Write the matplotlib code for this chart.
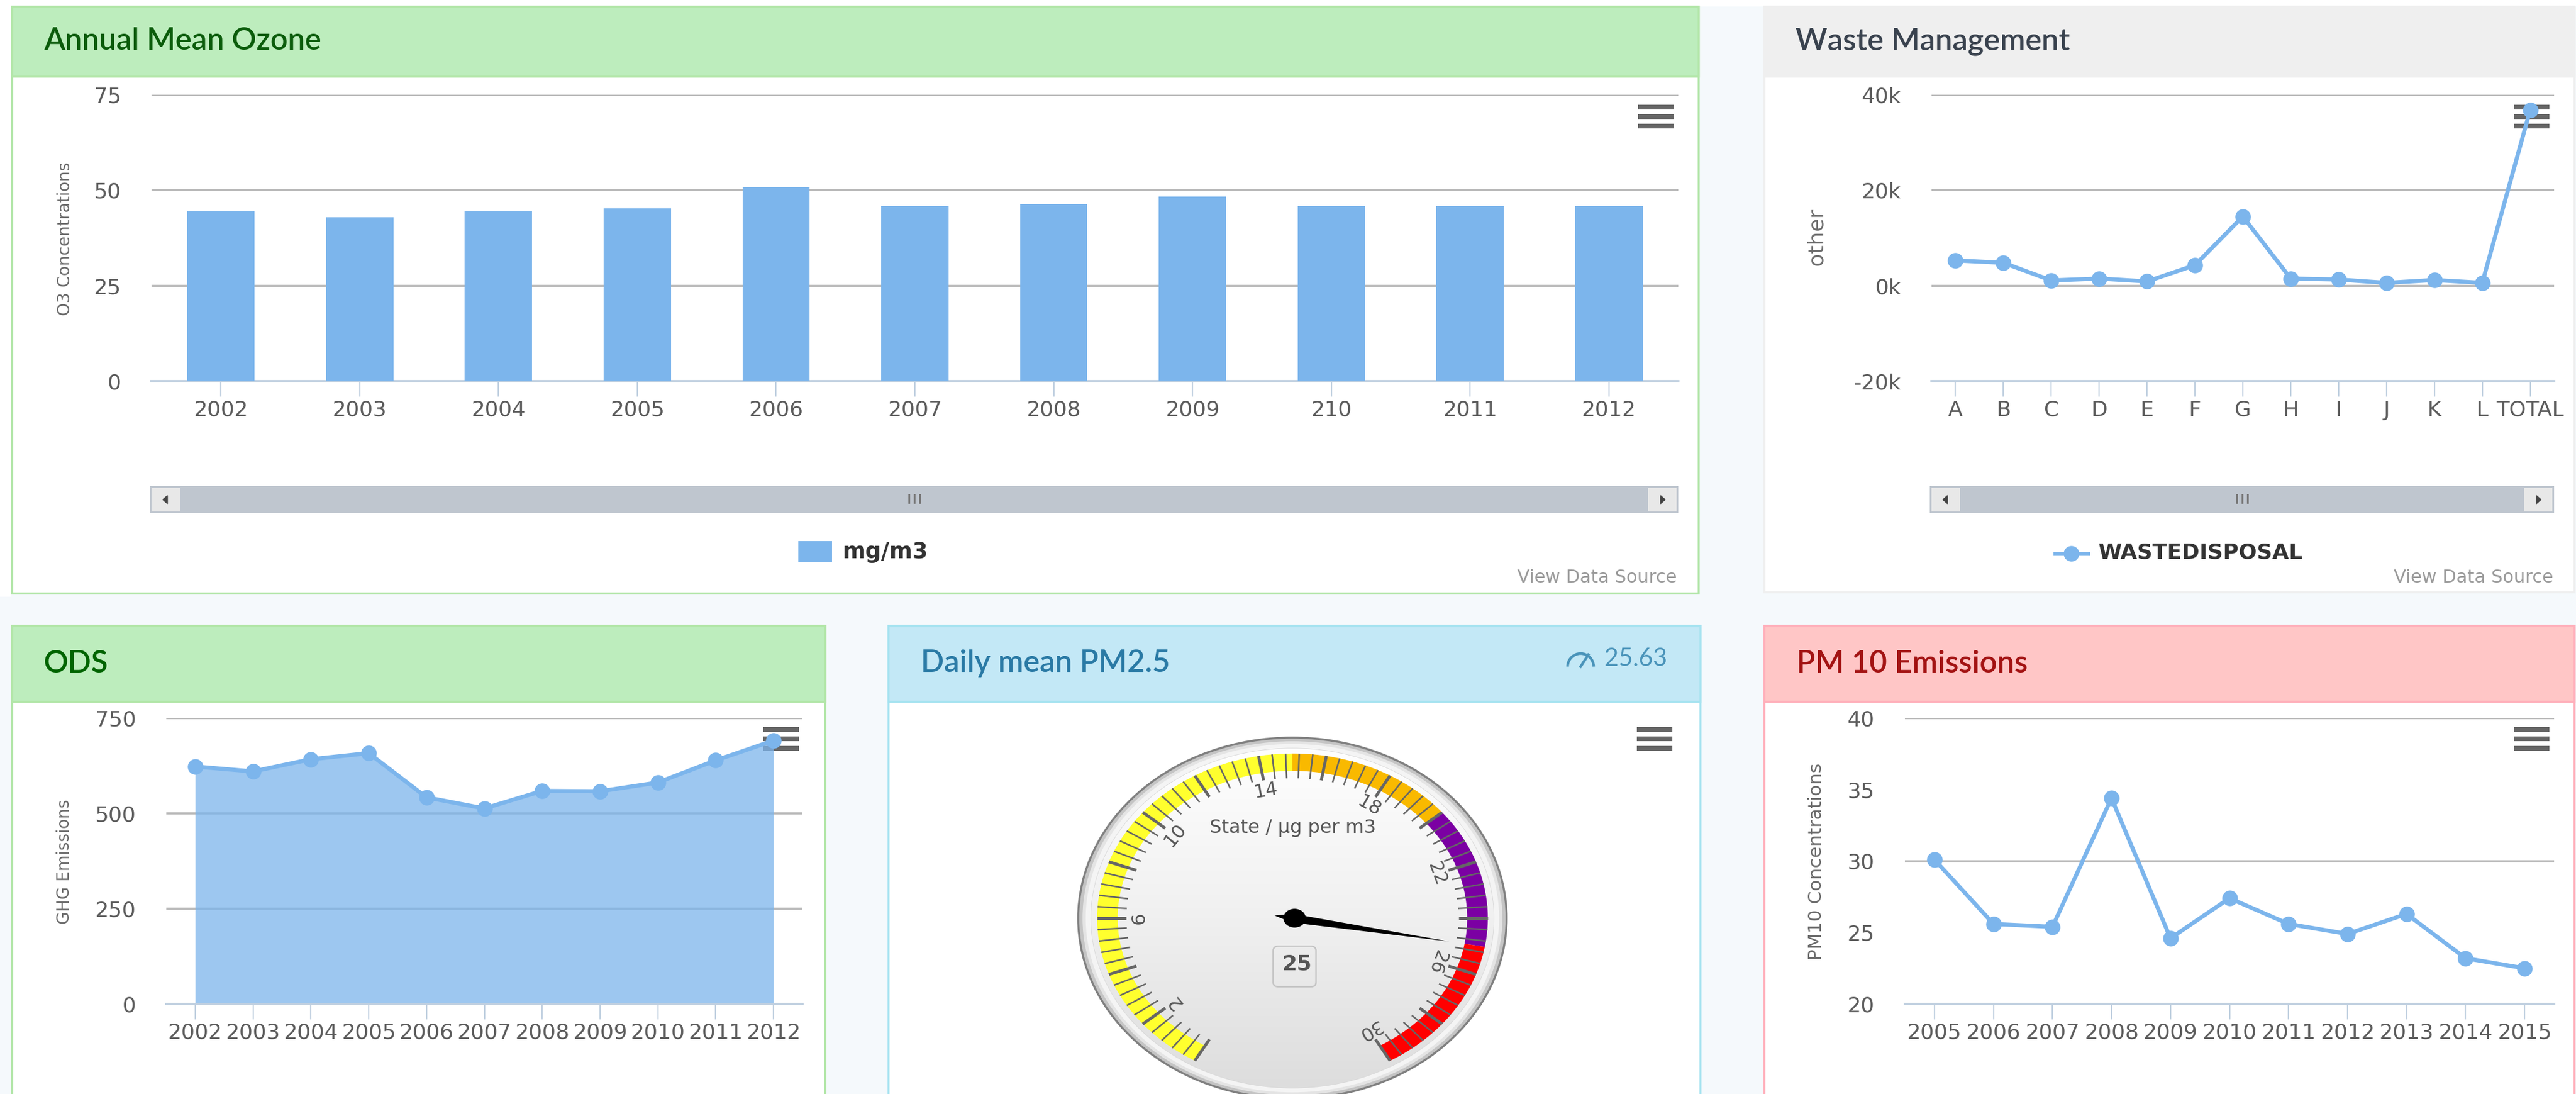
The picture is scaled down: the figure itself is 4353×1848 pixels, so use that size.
import numpy as np
import matplotlib
matplotlib.use('Agg')
import matplotlib.pyplot as plt
from matplotlib.patches import Rectangle, Circle, Arc, FancyBboxPatch

plt.rcParams['font.family'] = ['DejaVu Sans']

W = 4353
H = 1848

# chart values
ozone_years = ['2002', '2003', '2004', '2005', '2006', '2007', '2008', '2009', '210', '2011', '2012']
ozone_vals = [44.7, 43.0, 44.7, 45.3, 50.8, 45.8, 46.3, 48.4, 45.8, 45.8, 45.8]
ozone_ticks = [0, 25, 50, 75]

waste_cats = ['A', 'B', 'C', 'D', 'E', 'F', 'G', 'H', 'I', 'J', 'K', 'L', 'TOTAL']
waste_vals = [5300, 4800, 1100, 1500, 900, 4300, 14500, 1500, 1300, 600, 1200, 600, 36800]
waste_ticks = [-20000, 0, 20000, 40000]
waste_labels = ['-20k', '0k', '20k', '40k']

ods_years = ['2002', '2003', '2004', '2005', '2006', '2007', '2008', '2009', '2010', '2011', '2012']
ods_vals = [623, 610, 642, 658, 542, 513, 559, 558, 581, 639, 691]
ods_ticks = [0, 250, 500, 750]

pm10_years = ['2005', '2006', '2007', '2008', '2009', '2010', '2011', '2012', '2013', '2014', '2015']
pm10_vals = [30.1, 25.6, 25.4, 34.4, 24.6, 27.4, 25.6, 24.9, 26.3, 23.2, 22.5]
pm10_ticks = [20, 25, 30, 35, 40]
pm10_grid = [30, 40]

gauge_value = 25
gauge_band_edges = [0, 15, 20, 25, 30]
gauge_band_colors = ['#ffff2e', '#f9b900', '#7b00a3', '#ff0000']
gauge_labels = [2, 6, 10, 14, 18, 22, 26, 30]

BLUE = '#7cb5ec'
GRID = '#b8b8b8'
AXIS = '#c0d0e0'
TICKTXT = '#5c5c5c'

fig = plt.figure(figsize=(W / 100, H / 100), dpi=100, facecolor='#f5f9fc')

# page layer, in pixels
bg = fig.add_axes([0, 0, 1, 1], zorder=0)
bg.set_xlim(0, W)
bg.set_ylim(H, 0)
bg.axis('off')
bg.add_patch(Rectangle((0, 0), W, 11, fc='white', ec='none'))
bg.add_patch(Rectangle((0, 0), 18, 1008, fc='white', ec='none'))


def panel(l, t, r, b, head_b, head, edge, title, title_col, title_x):
    bg.add_patch(Rectangle((l, t), r - l, b - t, fc='white', ec=edge, lw=2.5))
    bg.add_patch(Rectangle((l, t), r - l, head_b - t, fc=head, ec=edge, lw=2.5))
    bg.text(title_x, (t + head_b) / 2, title, family='Lato', fontsize=37.3, fontweight='semibold',
            color=title_col, va='center', ha='left')


def menu_icon(l, t):
    for k in range(3):
        bg.add_patch(Rectangle((l, t + k * 16), 60, 8, fc='#666666', ec='none'))


def scrollbar(l, r, t=821, b=867):
    bg.add_patch(Rectangle((l, t), r - l, b - t, fc='#bfc6cf', ec='none'))
    bg.add_patch(Rectangle((l + 3, t + 3), 48, b - t - 6, fc='#e8e8e8', ec='none'))
    bg.add_patch(Rectangle((r - 51, t + 3), 48, b - t - 6, fc='#e8e8e8', ec='none'))
    mid = (t + b) / 2
    bg.fill([l + 22, l + 30, l + 30], [mid, mid - 7, mid + 7], color='#444444')
    bg.fill([r - 22, r - 30, r - 30], [mid, mid - 7, mid + 7], color='#444444')
    c = (l + r) / 2
    for dx in (-9, 0, 9):
        bg.plot([c + dx, c + dx], [mid - 8, mid + 5], color='#777777', lw=2.2)


def add_chart(l, t, r, b):
    ax = fig.add_axes([l / W, 1 - b / H, (r - l) / W, (b - t) / H], zorder=2)
    ax.patch.set_alpha(0)
    for s in ['top', 'left', 'right']:
        ax.spines[s].set_visible(False)
    ax.spines['bottom'].set_color(AXIS)
    ax.spines['bottom'].set_linewidth(3)
    ax.set_axisbelow(True)
    return ax


def dress(ax, cats, yticks, ylabels, ymin, ymax, ypad, grid_vals=None):
    ax.set_xlim(-0.5, len(cats) - 0.5)
    ax.set_ylim(ymin, ymax)
    ax.set_xticks(range(len(cats)))
    ax.set_xticklabels(cats)
    ax.set_yticks(yticks)
    ax.set_yticklabels(ylabels)
    ax.tick_params(axis='x', length=19, width=1.6, color=AXIS, pad=4, labelsize=26, labelcolor=TICKTXT)
    ax.tick_params(axis='y', length=0, pad=ypad, labelsize=26, labelcolor=TICKTXT)
    if grid_vals is None:
        grid_vals = yticks
    for v in grid_vals:
        if v != ymin:
            ax.axhline(v, color=GRID, lw=2.6, zorder=0.5)


def ytitle(x, y, s, size):
    bg.text(x, y, s, rotation=90, ha='center', va='center', fontsize=size, color='#6b6b6b')


def line_series(ax, vals):
    ax.plot(range(len(vals)), vals, color=BLUE, lw=5, marker='o', ms=19, mec='none', clip_on=False, zorder=3)


def legend_note(x):
    bg.text(x, 976, 'View Data Source', ha='right', va='center', fontsize=22, color='#9a9a9a')


# panels
panel(20, 11, 2870, 1002, 129, '#bdedbd', '#b2e6a8', 'Annual Mean Ozone', '#0b5c0b', 74)
panel(2981, 11, 4350, 1000, 129, '#efefef', '#efefef', 'Waste Management', '#39424e', 3034)
panel(20, 1057, 1394, 1870, 1185, '#bdedbd', '#b2e6a8', 'ODS', '#006400', 74)
panel(1501, 1057, 2873, 1870, 1185, '#c3e8f6', '#a6e3f0', 'Daily mean PM2.5', '#2a7aa5', 1556)
panel(2981, 1057, 4350, 1870, 1185, '#ffc6c6', '#ffb0bb', 'PM 10 Emissions', '#a31313', 3036)

menu_icon(2768, 177)
menu_icon(4248, 177)
menu_icon(1290, 1228)
menu_icon(2766, 1228)
menu_icon(4248, 1228)

scrollbar(253, 2836)
scrollbar(3261, 4316)

# ozone bars
ax1 = add_chart(256, 160, 2836, 644)
dress(ax1, ozone_years, ozone_ticks, [str(v) for v in ozone_ticks], 0, 75, 37)
ax1.bar(range(len(ozone_vals)), ozone_vals, width=0.485, color=BLUE, zorder=3)
ytitle(110, 403, 'O3 Concentrations', 20)
bg.add_patch(Rectangle((1349, 914), 57, 36, fc=BLUE, ec='none'))
bg.text(1424, 933, 'mg/m3', fontsize=27, fontweight='bold', color='#333333', va='center')
legend_note(2834)

# waste line
ax2 = add_chart(3264, 160, 4316, 644)
dress(ax2, waste_cats, waste_ticks, waste_labels, -20000, 40000, 37)
line_series(ax2, waste_vals)
ytitle(3069, 400, 'other', 26)
bg.plot([3473, 3528], [935, 935], color=BLUE, lw=5)
bg.plot([3500], [935], 'o', color=BLUE, ms=19, mec='none')
bg.text(3546, 933, 'WASTEDISPOSAL', fontsize=26, fontweight='bold', color='#333333', va='center')
legend_note(4315)

# ods area
ax3 = add_chart(281, 1213, 1356, 1696)
dress(ax3, ods_years, ods_ticks, [str(v) for v in ods_ticks], 0, 750, 37)
ax3.fill_between(range(len(ods_vals)), ods_vals, 0, color=BLUE, alpha=0.75, lw=0, zorder=2)
line_series(ax3, ods_vals)
ytitle(109, 1456, 'GHG Emissions', 20)

# pm10 line
ax5 = add_chart(3219, 1213, 4316, 1696)
dress(ax5, pm10_years, pm10_ticks, [str(v) for v in pm10_ticks], 20, 40, 37, grid_vals=pm10_grid)
line_series(ax5, pm10_vals)
ytitle(3070, 1455, 'PM10 Concentrations', 22.5)

# header reading of the gauge panel
bg.text(2817, 1113, '25.63', ha='right', va='center', family='Lato', fontsize=30, color='#4a94ba')
bg.add_patch(Arc((2671, 1126), 44, 44, theta1=180, theta2=360, ec='#4a94ba', lw=3.2))
bg.plot([2671, 2684], [1126, 1106], color='#4a94ba', lw=3.2)

# gauge, unit circle stretched to the picture's ellipse
cx, cy, rx, ry = 2184, 1551, 362, 305
left, right, top, bottom = cx - 1.06 * rx, cx + 1.06 * rx, 1232, 1848
g = fig.add_axes([left / W, 1 - bottom / H, (right - left) / W, (bottom - top) / H], zorder=2)
g.patch.set_alpha(0)
g.axis('off')


def gauge_xy(val, r):
    th = np.radians(-150 + 10 * np.asarray(val, dtype=float))
    return r * np.sin(th), r * np.cos(th)


grad = np.linspace(0, 1, 200).reshape(-1, 1)
face_cols = matplotlib.colors.LinearSegmentedColormap.from_list('face', ['#ffffff', '#f0f0f0', '#dcdcdc'])
g.add_patch(Circle((0, 0), 1.0, fc='#c4c4c4', ec='#808080', lw=2.5))
g.add_patch(Circle((0, 0), 0.98, fc='#e4e4e4', ec='none'))
g.add_patch(Circle((0, 0), 0.965, fc='#f4f4f4', ec='none'))
face = Circle((0, 0), 0.94, fc='none', ec='#d8d8d8', lw=1.2)
g.add_patch(face)
img = g.imshow(grad, extent=[-1, 1, -1, 1], cmap=face_cols, aspect='auto', zorder=1)
img.set_clip_path(face)
g.set_xlim(-1.06, 1.06)
g.set_ylim((cy - bottom) / ry, (cy - top) / ry)

for i in range(len(gauge_band_colors)):
    v = np.linspace(gauge_band_edges[i], gauge_band_edges[i + 1], 40)
    xo, yo = gauge_xy(v, 0.912)
    xi, yi = gauge_xy(v[::-1], 0.816)
    g.fill(np.r_[xo, xi], np.r_[yo, yi], color=gauge_band_colors[i], lw=0, zorder=2)

for v in np.arange(0, 30.01, 0.4):
    xs, ys = gauge_xy([v, v], np.array([0.775, 0.912]))
    major = abs(v / 2 - round(v / 2)) < 1e-6
    g.plot(xs, ys, color='#666666', lw=3.6 if major else 1.9, solid_capstyle='butt', zorder=3)

for v in gauge_labels:
    x, y = gauge_xy(v, 0.715)
    g.text(x, y, str(v), rotation=150 - 10 * v, ha='center', va='center', fontsize=23,
           color='#555555', rotation_mode='anchor', zorder=4)

g.text(0.003, 0.5, 'State / µg per m3', ha='center', va='center', fontsize=23, color='#555555', zorder=4)

# needle
th = np.radians(-150 + 10 * gauge_value)
d = np.array([np.sin(th), np.cos(th)])
n = np.array([np.cos(th), -np.sin(th)])
needle = np.array([d * 0.743, n * 0.024, -d * 0.085, -n * 0.024])
g.fill(needle[:, 0], needle[:, 1], color='black', lw=0, zorder=5)
g.add_patch(Circle((0.01, 0), 0.052, fc='black', ec='none', zorder=5))

g.add_patch(FancyBboxPatch((-0.09, -0.38), 0.2, 0.225, boxstyle='round,pad=0,rounding_size=0.025',
                           fc='none', ec='#c4c4c4', lw=1.8, zorder=4))
g.text(0.02, -0.255, str(gauge_value), ha='center', va='center', fontsize=26, fontweight='bold',
       color='#555555', zorder=5)

fig.savefig('out.png', dpi=100, facecolor=fig.get_facecolor())
